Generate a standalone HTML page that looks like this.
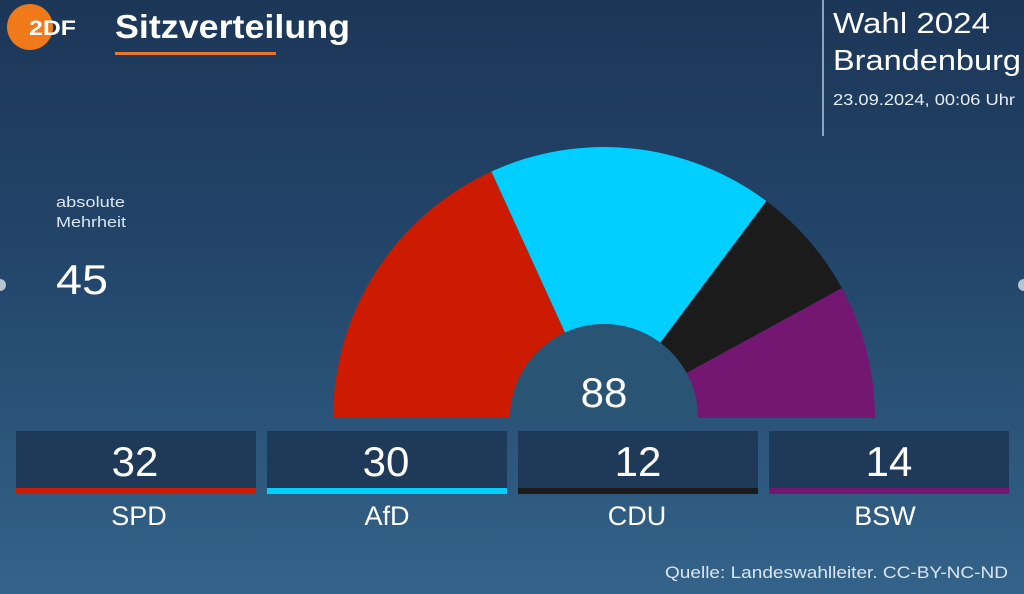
<!DOCTYPE html>
<html><head><meta charset="utf-8"><style>
html,body{margin:0;padding:0;width:1024px;height:594px;overflow:hidden}
body{font-family:"Liberation Sans",sans-serif}
</style></head><body>
<svg width="1024" height="594" viewBox="0 0 1024 594" xmlns="http://www.w3.org/2000/svg" font-family="Liberation Sans, sans-serif">
<defs>
<linearGradient id="bg" x1="0" y1="0" x2="0" y2="1">
<stop offset="0" stop-color="#1c3657"/>
<stop offset="0.45" stop-color="#23466b"/>
<stop offset="1" stop-color="#346389"/>
</linearGradient>
</defs>
<rect width="1024" height="594" fill="url(#bg)"/>
<!-- logo -->
<circle cx="30" cy="27" r="23" fill="#f07a1a"/>
<text x="29" y="35" font-size="21" font-weight="bold" fill="#ffffff" textLength="47" lengthAdjust="spacingAndGlyphs">2DF</text>
<text x="115" y="38" font-size="33" font-weight="bold" fill="#ffffff" textLength="235" lengthAdjust="spacingAndGlyphs">Sitzverteilung</text>
<rect x="115" y="52" width="161" height="3" fill="#e8772a"/>
<!-- top right -->
<rect x="822" y="0" width="2" height="136" fill="#8aa4c0"/>
<text x="833" y="33" font-size="29" fill="#ffffff" textLength="157" lengthAdjust="spacingAndGlyphs">Wahl 2024</text>
<text x="833" y="70" font-size="29" fill="#ffffff" textLength="188" lengthAdjust="spacingAndGlyphs">Brandenburg</text>
<text x="833" y="105" font-size="16" fill="#e6edf5" textLength="182" lengthAdjust="spacingAndGlyphs">23.09.2024, 00:06 Uhr</text>
<!-- left -->
<text x="56" y="207" font-size="15" fill="#dbe5f0" textLength="69" lengthAdjust="spacingAndGlyphs">absolute</text>
<text x="56" y="227" font-size="15" fill="#dbe5f0" textLength="70" lengthAdjust="spacingAndGlyphs">Mehrheit</text>
<text x="56" y="294" font-size="42" fill="#ffffff" textLength="52" lengthAdjust="spacingAndGlyphs">45</text>
<circle cx="0" cy="285" r="6" fill="#b8c4d0"/>
<circle cx="1024" cy="285" r="6" fill="#b8c4d0"/>
<!-- semicircle -->
<path d="M333,418 A271,271 0 0 1 491.4,171.5 L565,332.5 A94,94 0 0 0 510,418 Z" fill="#cc1b00"/>
<path d="M491.4,171.5 A271,271 0 0 1 766.4,201.1 L660.3,342.8 A94,94 0 0 0 565,332.5 Z" fill="#00cfff"/>
<path d="M766.4,201.1 A271,271 0 0 1 841.9,288.1 L686.5,373 A94,94 0 0 0 660.3,342.8 Z" fill="#1b1b1b"/>
<path d="M841.9,288.1 A271,271 0 0 1 875,418 L698,418 A94,94 0 0 0 686.5,373 Z" fill="#731772"/>
<path d="M510,418 A94,94 0 0 1 698,418 Z" fill="#2a5474"/>
<text x="604" y="407" font-size="42" fill="#ffffff" text-anchor="middle">88</text>
<!-- boxes -->
<g font-size="42" fill="#ffffff" text-anchor="middle">
<rect x="16" y="431" width="240" height="57" fill="#1f3a58"/><rect x="16" y="488" width="240" height="6" fill="#cc1b00"/>
<text x="135" y="476">32</text>
<rect x="267" y="431" width="240" height="57" fill="#1f3a58"/><rect x="267" y="488" width="240" height="6" fill="#00cfff"/>
<text x="386" y="476">30</text>
<rect x="518" y="431" width="240" height="57" fill="#1f3a58"/><rect x="518" y="488" width="240" height="6" fill="#1b1b1b"/>
<text x="638" y="476">12</text>
<rect x="769" y="431" width="240" height="57" fill="#1f3a58"/><rect x="769" y="488" width="240" height="6" fill="#731772"/>
<text x="889" y="476">14</text>
</g>
<g font-size="27" fill="#ffffff" text-anchor="middle">
<text x="139" y="525">SPD</text>
<text x="387" y="525">AfD</text>
<text x="637" y="525">CDU</text>
<text x="885" y="525">BSW</text>
</g>
<text x="665" y="578" font-size="17" fill="#dbe5f0" textLength="343" lengthAdjust="spacingAndGlyphs">Quelle: Landeswahlleiter. CC-BY-NC-ND</text>
</svg>
</body></html>
